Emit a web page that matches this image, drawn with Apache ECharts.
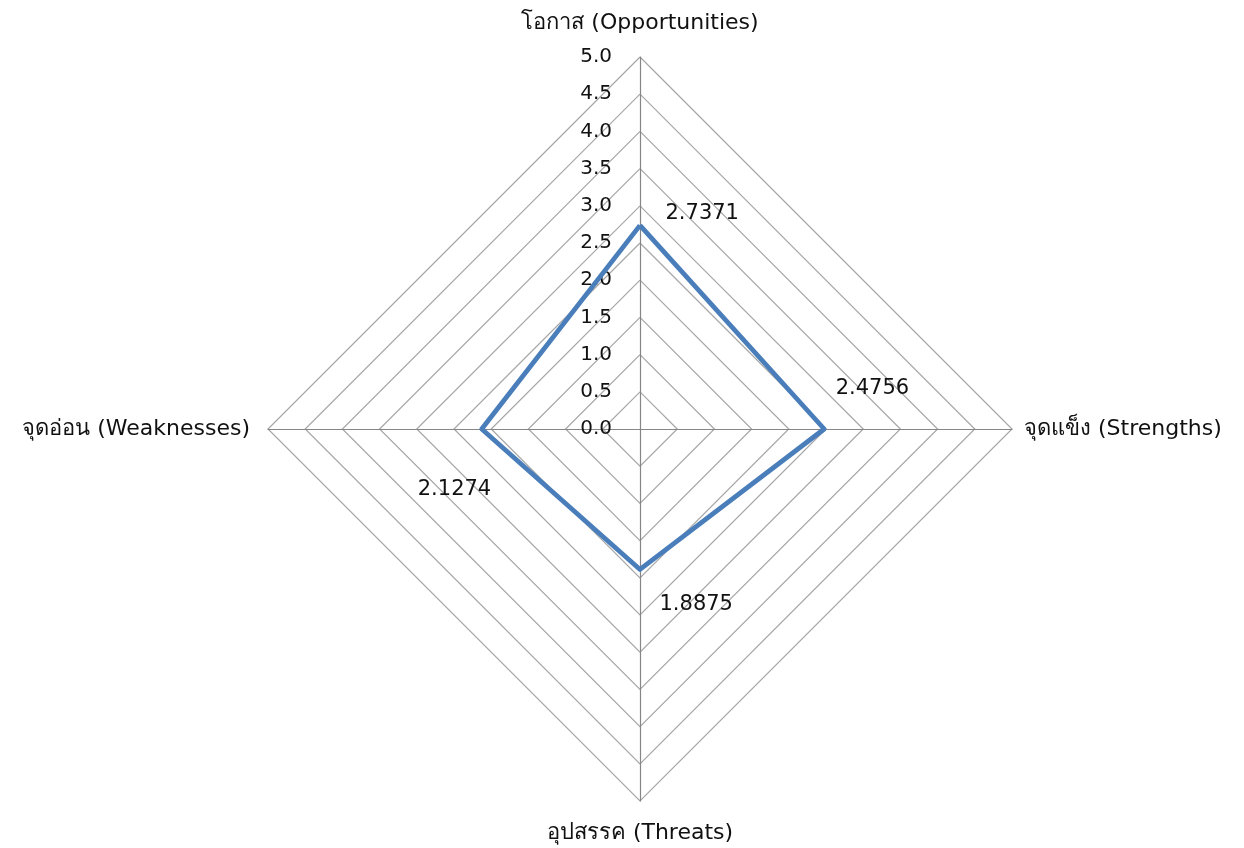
<!DOCTYPE html>
<html><head><meta charset="utf-8">
<script src="https://cdn.jsdelivr.net/npm/echarts@6/dist/echarts.min.js"></script>
<style>html,body{margin:0;padding:0;background:#fff}#c{width:1244px;height:848px}</style>
</head><body><div id="c"></div>
<script>
// Radar axes listed counter-clockwise from the top (ECharts default direction)
const indicatorNames = ['โอกาส (Opportunities)', 'จุดอ่อน (Weaknesses)', 'อุปสรรค (Threats)', 'จุดแข็ง (Strengths)'];
const values = [2.7371, 2.1274, 1.8875, 2.4756];
const axisMax = 5;
const tickStep = 0.5;

const FONT = '"DejaVu Sans", "Noto Sans", sans-serif';
const chart = echarts.init(document.getElementById('c'));

const nameGaps = [23, 18, 21, 12];
const indicator = indicatorNames.map((n, i) => ({
  name: n, min: 0, max: axisMax,
  nameGap: nameGaps[i],
  axisLabel: { show: i === 0 }
}));

// per-point label placement
const labelPlacement = [
  { position: 'right', offset: [20, -12] },
  { position: 'left', offset: [15, 61] },
  { position: 'right', offset: [14, 35] },
  { position: 'right', offset: [6, -40] }
];

const labelSeries = values.map((v, k) => ({
  type: 'radar',
  silent: true,
  symbol: 'circle', symbolSize: 1,
  itemStyle: { color: 'transparent' },
  lineStyle: { opacity: 0 },
  z: 5,
  label: {
    show: true,
    position: labelPlacement[k].position,
    offset: labelPlacement[k].offset,
    color: '#111', fontFamily: FONT, fontSize: 21,
    formatter: p => (p.value === values[k] ? values[k].toFixed(4) : '')
  },
  data: [{ value: values }]
}));

chart.setOption({
  animation: false,
  backgroundColor: '#fff',
  radar: {
    center: [640, 429],
    radius: 372,
    startAngle: 90,
    shape: 'polygon',
    splitNumber: axisMax / tickStep,
    indicator: indicator,
    axisName: { color: '#111', fontFamily: FONT, fontSize: 22 },
    axisLine: { show: true, lineStyle: { color: '#868686', width: 1.2 } },
    splitLine: { show: true, lineStyle: { color: '#a6a6a6', width: 1.2 } },
    splitArea: { show: false },
    axisTick: { show: false },
    axisLabel: {
      color: '#111', fontFamily: FONT, fontSize: 20, margin: 28,
      padding: [4, 0, 0, 0],
      formatter: v => Number(v).toFixed(1)
    }
  },
  series: [{
    type: 'radar',
    symbol: 'none',
    lineStyle: { color: '#4a7ebb', width: 4.8 },
    data: [{ value: values }]
  }].concat(labelSeries)
});
</script></body></html>
